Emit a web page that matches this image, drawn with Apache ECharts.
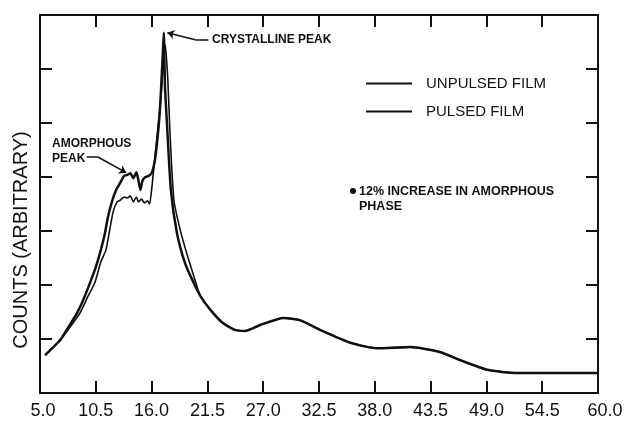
<!DOCTYPE html>
<html>
<head>
<meta charset="utf-8">
<script src="https://cdn.jsdelivr.net/npm/echarts@6/dist/echarts.min.js"></script>
<style>html,body{margin:0;padding:0;background:#fff}#c{width:626px;height:421px}</style>
</head>
<body>
<div id="c"></div>
<script>
// X tick values (2-theta)
var xTicks = [5.0, 10.5, 16.0, 21.5, 27.0, 32.5, 38.0, 43.5, 49.0, 54.5, 60.0];

// Pulsed film (outer / higher amorphous curve)
var pulsedX = [5.5, 6.2, 7.0, 7.8, 8.65, 9.3, 9.93, 10.5, 11.0, 11.4, 11.7, 12.1, 12.5, 12.9, 13.3, 13.6, 13.9, 14.2, 14.5, 14.7, 14.9, 15.1, 15.4, 15.7, 16.05, 16.4, 16.8, 17.1, 17.2, 17.32, 17.5, 17.9, 18.5, 19.3, 20.0, 20.8, 21.8, 23.0, 24.2, 25.2, 26.7, 29.0, 30.6, 32.6, 35.6, 38.2, 41.5, 44.4, 46.4, 49.1, 52.0, 56.3, 59.9];
var pulsedY = [0.70, 0.83, 0.98, 1.22, 1.48, 1.74, 2.04, 2.33, 2.65, 2.96, 3.26, 3.55, 3.76, 3.89, 4.02, 4.04, 4.07, 3.98, 4.09, 3.94, 3.76, 3.93, 4.00, 4.02, 4.09, 4.41, 5.19, 6.26, 6.67, 5.67, 5.04, 3.76, 2.96, 2.40, 2.10, 1.80, 1.54, 1.30, 1.17, 1.15, 1.26, 1.39, 1.35, 1.17, 0.93, 0.83, 0.85, 0.76, 0.61, 0.43, 0.37, 0.37, 0.37];

// Unpulsed film (inner curve)
var unpulsedX = [5.5, 6.2, 7.0, 7.8, 8.94, 9.7, 10.4, 11.0, 11.5, 12.2, 12.6, 12.9, 13.3, 13.6, 13.9, 14.2, 14.5, 14.7, 15.0, 15.3, 15.6, 15.8, 16.05, 16.5, 16.9, 17.2, 17.35, 17.6, 17.8, 18.2, 18.9, 19.6, 20.3, 20.8, 21.8, 23.0, 24.2, 25.2, 26.7, 29.0, 30.6, 32.6, 35.6, 38.2, 41.5, 44.4, 46.4, 49.1, 52.0, 56.3, 59.9];
var unpulsedY = [0.70, 0.83, 0.98, 1.18, 1.48, 1.78, 2.04, 2.43, 2.65, 3.35, 3.54, 3.57, 3.63, 3.61, 3.65, 3.54, 3.63, 3.54, 3.59, 3.52, 3.56, 3.50, 3.85, 4.69, 5.43, 6.17, 6.45, 5.80, 4.87, 3.57, 2.96, 2.50, 2.08, 1.80, 1.54, 1.30, 1.17, 1.15, 1.26, 1.39, 1.35, 1.17, 0.93, 0.83, 0.85, 0.76, 0.61, 0.43, 0.37, 0.37, 0.37];

function zip(a, b) { return a.map(function (v, i) { return [v, b[i]]; }); }

var ink = '#111';
var chart = echarts.init(document.getElementById('c'), null, { renderer: 'canvas' });

var xBase = {
  type: 'value', min: 5, max: 60,
  axisLine: { show: true, onZero: false, lineStyle: { color: ink, width: 2 } },
  axisTick: { show: true, inside: true, length: 12, customValues: xTicks, lineStyle: { color: ink, width: 2 } },
  splitLine: { show: false }
};
var yBase = {
  type: 'value', min: 0, max: 7, interval: 1,
  axisLine: { show: true, onZero: false, lineStyle: { color: ink, width: 2 } },
  axisTick: { show: true, inside: true, length: 12, lineStyle: { color: ink, width: 2 } },
  axisLabel: { show: false },
  splitLine: { show: false }
};
var lblFont = { fontFamily: 'Liberation Sans', fontSize: 18, color: ink };

var option = {
  backgroundColor: '#fff',
  animation: false,
  grid: { left: 40, right: 28, top: 15, bottom: 28, containLabel: false },
  xAxis: [
    Object.assign({}, xBase, {
      position: 'bottom',
      axisLabel: {
        show: true, customValues: xTicks, margin: 9,
        fontFamily: 'Liberation Sans', fontSize: 18, color: ink,
        formatter: function (v) {
          var s = v.toFixed(1);
          if (v === 60) return '{r|' + s + '}';
          if (v === 5) return '{l|' + s + '}';
          return s;
        },
        rich: {
          r: Object.assign({ padding: [0, 0, 0, 14] }, lblFont),
          l: Object.assign({ padding: [0, 0, 0, 6] }, lblFont)
        }
      }
    }),
    Object.assign({}, xBase, { position: 'top', axisLabel: { show: false } })
  ],
  yAxis: [
    Object.assign({}, yBase, { position: 'left' }),
    Object.assign({}, yBase, { position: 'right' })
  ],
  legend: {
    show: true, orient: 'vertical', left: 361, top: 71, itemGap: 13,
    itemWidth: 46, itemHeight: 2, icon: 'rect',
    textStyle: { fontFamily: 'Liberation Sans', fontSize: 15, color: ink, padding: [0, 0, 0, 9] },
    data: ['UNPULSED FILM', 'PULSED FILM']
  },
  series: [
    {
      name: 'PULSED FILM', type: 'line', xAxisIndex: 0, yAxisIndex: 0,
      data: zip(pulsedX, pulsedY), showSymbol: false, smooth: 0.2,
      lineStyle: { color: ink, width: 2.5 }, itemStyle: { color: ink },
      markLine: {
        silent: true, symbol: ['none', 'none'], symbolSize: 7,
        label: { show: false },
        lineStyle: { color: ink, width: 1.5, type: 'solid' },
        data: [
          [{ coord: [21.6, 6.54] }, { coord: [20.3, 6.54] }],
          [{ coord: [20.3, 6.54], symbol: 'none' }, { coord: [17.55, 6.67], symbol: 'arrow' }],
          [{ coord: [9.6, 4.37] }, { coord: [10.7, 4.37] }],
          [{ coord: [10.7, 4.37], symbol: 'none' }, { coord: [13.5, 4.08], symbol: 'arrow' }]
        ]
      }
    },
    {
      name: 'UNPULSED FILM', type: 'line', xAxisIndex: 0, yAxisIndex: 0,
      data: zip(unpulsedX, unpulsedY), showSymbol: false, smooth: 0.2,
      lineStyle: { color: ink, width: 1.6 }, itemStyle: { color: ink }
    }
  ],
  graphic: [
    { type: 'text', left: 212, top: 34, style: { text: 'CRYSTALLINE PEAK', font: 'bold 12px "Liberation Sans"', fill: ink } },
    { type: 'text', left: 52, top: 136, style: { text: 'AMORPHOUS\nPEAK', font: 'bold 12px "Liberation Sans"', fill: ink, lineHeight: 15 } },
    { type: 'circle', shape: { cx: 353, cy: 191, r: 3 }, style: { fill: ink } },
    { type: 'text', left: 359, top: 184, style: { text: '12% INCREASE IN AMORPHOUS\nPHASE', font: 'bold 12.5px "Liberation Sans"', fill: ink, lineHeight: 15 } },
    { type: 'text', x: 21, y: 240, rotation: Math.PI / 2, style: { text: 'COUNTS (ARBITRARY)', font: '20px "Liberation Sans"', fill: ink, align: 'center', verticalAlign: 'middle' } }
  ]
};
chart.setOption(option);
</script>
</body>
</html>
